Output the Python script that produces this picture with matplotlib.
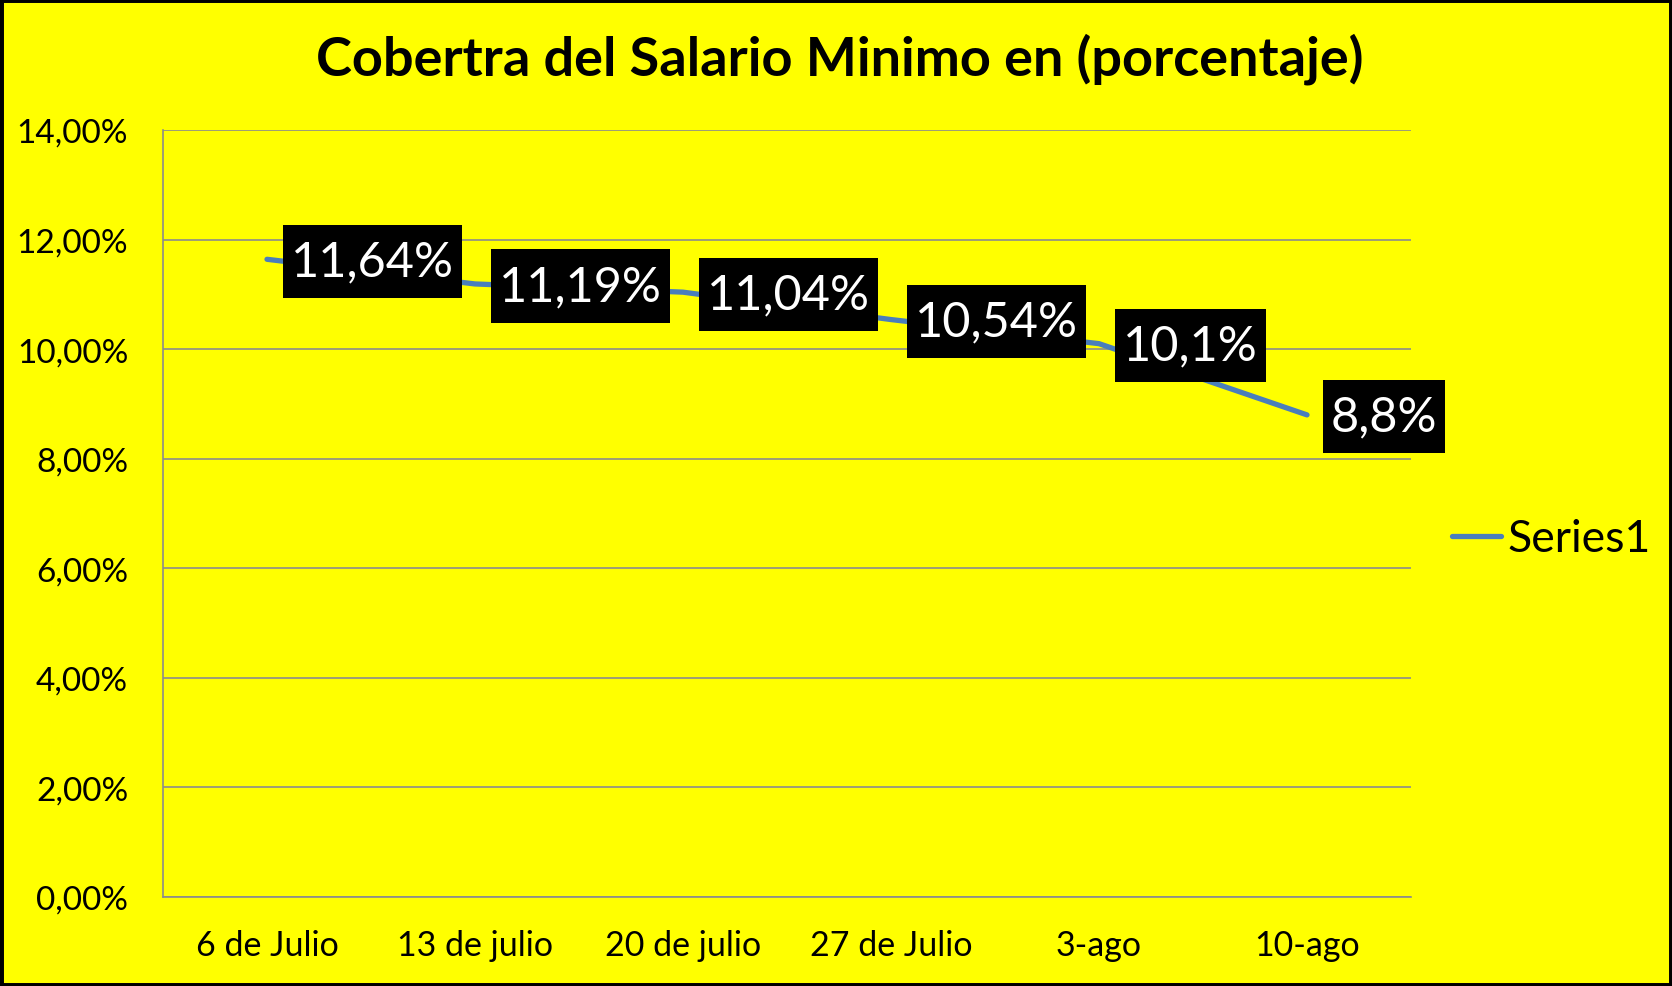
import matplotlib.pyplot as plt
from matplotlib.patches import Rectangle
from matplotlib.path import Path
from matplotlib.ticker import FuncFormatter, MultipleLocator

fechas = ['6 de Julio', '13 de julio', '20 de julio', '27 de Julio', '3-ago', '10-ago']
cobertura = [11.64, 11.19, 11.04, 10.54, 10.1, 8.8]
etiquetas = ['11,64%', '11,19%', '11,04%', '10,54%', '10,1%', '8,8%']

plt.rcParams['font.family'] = ['Lato', 'DejaVu Sans']

amarillo = '#FFFF00'
azul = '#4A7EBB'
gris = '#8C8C8C'


def caja(x0, y0, w, h, mutation_size):
    # black label box, less padding on the sides than on top/bottom
    px = 0.16 * mutation_size
    py = 0.30 * mutation_size
    x0, y0, x1, y1 = x0 - px, y0 - py, x0 + w + px, y0 + h + py
    return Path([(x0, y0), (x1, y0), (x1, y1), (x0, y1), (x0, y0)], closed=True)


fig = plt.figure(figsize=(16.72, 9.87), dpi=100, facecolor=amarillo)
ax = fig.add_axes([163/1672, 1 - 898/987, (1411-163)/1672, (898-131)/987])
ax.set_facecolor(amarillo)

x = list(range(len(fechas)))
ax.plot(x, cobertura, color=azul, lw=3.8, solid_capstyle='round', label='Series1', zorder=3)

for xi, yi, txt in zip(x, cobertura, etiquetas):
    ax.annotate(txt, (xi, yi), xytext=(24, -2), textcoords='offset pixels',
                ha='left', va='center', color='white', fontsize=35,
                bbox=dict(boxstyle=caja, fc='black', ec='none'), zorder=4)

ax.set_xlim(-0.5, 5.5)
ax.set_ylim(0, 14)
ax.yaxis.set_major_locator(MultipleLocator(2))
ax.yaxis.set_major_formatter(FuncFormatter(lambda v, p: ('%.2f%%' % v).replace('.', ',')))
ax.set_xticks(x)
ax.set_xticklabels(fechas)
ax.grid(axis='y', color=gris, lw=1.2)
ax.set_axisbelow(True)
for s in ['top', 'right']:
    ax.spines[s].set_visible(False)
for s in ['left', 'bottom']:
    ax.spines[s].set_color(gris)
    ax.spines[s].set_linewidth(1.2)
ax.tick_params(axis='y', length=0, pad=25, labelsize=24)
ax.tick_params(axis='x', length=0, pad=23, labelsize=24.5)

fig.legend(loc='center left', bbox_to_anchor=(1452/1672, 1 - 540/987), frameon=False,
           fontsize=32, handlelength=1.1, handletextpad=0.15, borderpad=0, borderaxespad=0)

fig.text(0.502, 1 - 59/987, 'Cobertra del Salario Minimo en (porcentaje)',
         ha='center', va='center', fontsize=39, fontweight='bold')

fig.add_artist(Rectangle((0, 0), 1, 1, transform=fig.transFigure, fill=False,
                         ec='black', lw=5))

fig.savefig('out.png', facecolor=amarillo)
